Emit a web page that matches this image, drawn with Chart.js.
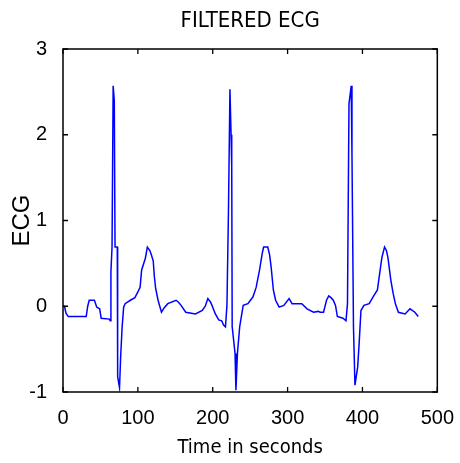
<!DOCTYPE html>
<html>
<head>
<meta charset="utf-8">
<script src="https://cdn.jsdelivr.net/npm/chart.js@4/dist/chart.umd.min.js"></script>
<style>
html,body{margin:0;padding:0;background:#fff;}
#wrap{width:460px;height:463px;}
</style>
</head>
<body>
<div id="wrap"><canvas id="c" width="460" height="463"></canvas></div>
<script>
// Time (s) samples
const timeValues = [0,2,4,7,31,33,35,42,45,49,51,62,63,64,65.5,67,68.5,69.5,72.5,73,75.5,77,79,81,83,90,96,99,103,105,110,112.7,116,118,120.5,122,123.7,127,131.5,135,140,151,154,157.7,164,177,186,190,193.5,197,199,203.5,208,212,214.5,217,219,221,223,224.5,225.4,226,229.8,231,233,236,240.7,247,253.8,258,262.5,266,268,273.5,276,278,281,284,288.7,295,302,306,319,326,334.6,341,343.5,348,352,355,358,361,364,366.5,374,378,380,382,385,386,388,390,393.6,395.6,398,402,409,415,420,422,426,429.5,432,434,438,441,444,448,457,463.5,470,474.5];
// Filtered ECG amplitude at each time
const ecgValues = [0,0,-0.08,-0.12,-0.12,0,0.07,0.07,-0.01,-0.03,-0.14,-0.15,-0.17,0.4,0.69,2.57,2.4,0.69,0.69,-0.82,-0.95,-0.59,-0.24,-0.01,0.03,0.07,0.1,0.15,0.22,0.42,0.56,0.69,0.65,0.6,0.53,0.35,0.21,0.07,-0.07,-0.02,0.03,0.07,0.05,0.01,-0.07,-0.09,-0.05,0,0.09,0.05,0.01,-0.09,-0.16,-0.17,-0.22,-0.24,0.01,1.1,2.53,2.0,1.62,-0.24,-0.55,-0.98,-0.55,-0.24,0.01,0.03,0.11,0.22,0.42,0.61,0.69,0.69,0.6,0.46,0.19,0.07,-0.01,0.01,0.09,0.03,0.03,-0.03,-0.07,-0.06,-0.07,-0.07,0.07,0.12,0.1,0.07,0.01,-0.12,-0.14,-0.17,0.03,2.36,2.57,1.77,-0.24,-0.92,-0.71,-0.43,-0.05,0.01,0.03,0.12,0.19,0.32,0.57,0.69,0.65,0.57,0.3,0.15,0.03,-0.07,-0.09,-0.03,-0.07,-0.12];
const xTickValues = [0,100,200,300,400,500];
const yTickValues = [-1,0,1,2,3];
const titleText = 'FILTERED ECG';
const xTitle = 'Time in seconds';
const yTitle = 'ECG';

const points = timeValues.map((t,i)=>({x:t,y:ecgValues[i]}));

const framePlugin = {
  id:'frame',
  afterDraw(chart){
    const {ctx, chartArea:a, scales:{x,y}} = chart;
    ctx.save();
    ctx.strokeStyle='#000';
    ctx.lineWidth=1.5;
    ctx.strokeRect(a.left,a.top,a.right-a.left,a.bottom-a.top);
    ctx.lineWidth=1.3;
    const L=5;
    ctx.beginPath();
    x.ticks.forEach(t=>{
      const px=x.getPixelForValue(t.value);
      ctx.moveTo(px,a.bottom);ctx.lineTo(px,a.bottom-L);
      ctx.moveTo(px,a.top);ctx.lineTo(px,a.top+L);
    });
    y.ticks.forEach(t=>{
      const py=y.getPixelForValue(t.value);
      ctx.moveTo(a.left,py);ctx.lineTo(a.left+L,py);
      ctx.moveTo(a.right,py);ctx.lineTo(a.right-L,py);
    });
    ctx.stroke();
    ctx.restore();
  }
};

new Chart(document.getElementById('c'),{
  type:'line',
  data:{datasets:[{data:points,borderColor:'#0000ff',borderWidth:1.5,pointRadius:0,tension:0,fill:false}]},
  options:{
    responsive:false,animation:false,devicePixelRatio:1,
    layout:{padding:{left:0,right:17,top:0,bottom:0}},
    plugins:{
      legend:{display:false},tooltip:{enabled:false},
      title:{display:true,text:titleText,fullSize:false,color:'#000',
        font:{family:"'DejaVu Sans Condensed','Liberation Sans',sans-serif",size:22,weight:'normal',lineHeight:1.2},
        padding:{top:8,bottom:14.6}}
    },
    scales:{
      x:{type:'linear',min:0,max:500,
        afterBuildTicks(s){s.ticks=xTickValues.map(v=>({value:v}));},
        afterFit(s){s.height=71;},
        grid:{display:false},border:{display:false},
        ticks:{color:'#000',padding:6,maxRotation:0,font:{family:"'Liberation Sans',sans-serif",size:20}},
        title:{display:true,text:xTitle,color:'#000',padding:{top:0,bottom:3},
          font:{family:"'DejaVu Sans Condensed','Liberation Sans',sans-serif",size:20,lineHeight:1.2}}
      },
      y:{type:'linear',min:-1,max:3,
        afterBuildTicks(s){s.ticks=yTickValues.map(v=>({value:v}));},
        afterFit(s){s.width=63;},
        grid:{display:false},border:{display:false},
        ticks:{color:'#000',padding:8,font:{family:"'Liberation Sans',sans-serif",size:20}},
        title:{display:true,text:yTitle,color:'#000',padding:{top:7.6,bottom:0},
          font:{family:"'Liberation Sans',sans-serif",size:24,lineHeight:1.2}}
      }
    }
  },
  plugins:[framePlugin]
});
</script>
</body>
</html>
